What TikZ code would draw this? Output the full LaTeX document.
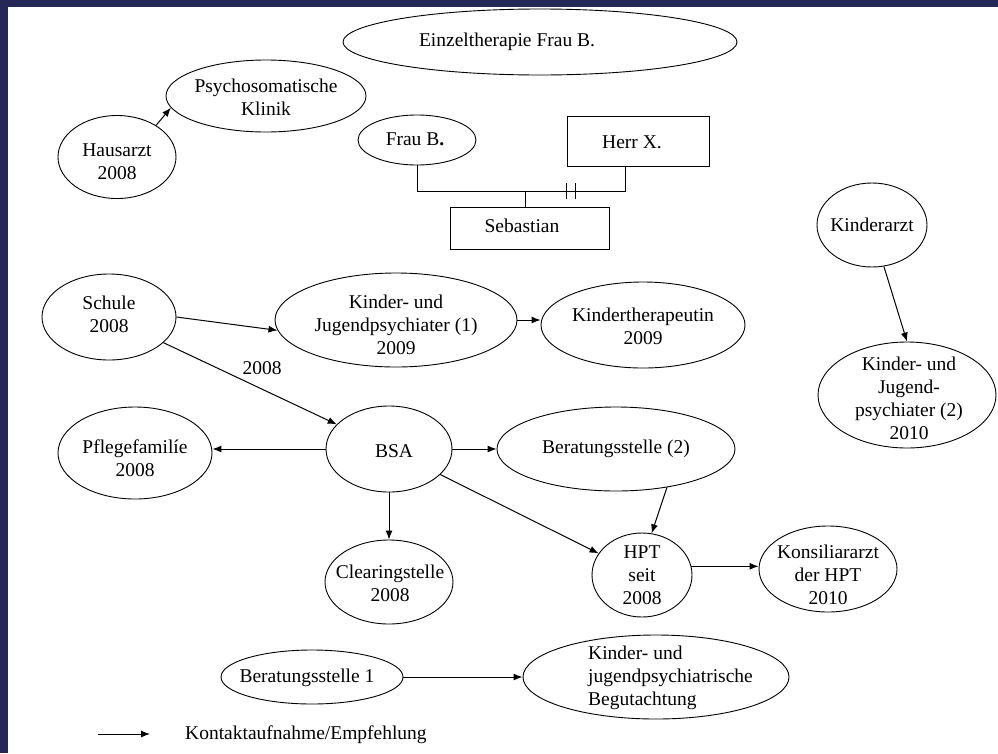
\documentclass[tikz,border=0pt]{standalone}
\usepackage{fontspec}
\setmainfont{Liberation Serif}
\usetikzlibrary{shapes.geometric,arrows.meta}
\definecolor{framecol}{RGB}{37,40,87}
\begin{document}
\begin{tikzpicture}[x=1pt,y=-1pt,
  ell/.style={draw,ellipse,inner sep=0pt,line width=0.9pt},
  box/.style={draw,rectangle,inner sep=0pt,line width=0.9pt},
  txt/.style={font=\fontsize{19.5}{23}\selectfont,align=center,inner sep=0pt},
  arr/.style={-{Latex[length=9pt,width=7pt]},line width=1pt},
  conn/.style={line width=0.9pt}]
\useasboundingbox (0,0) rectangle (998,753);
\fill[white] (0,0) rectangle (998,753);
\fill[framecol] (0,0) rectangle (998,7);
\fill[framecol] (0,0) rectangle (8,753);

% top
\node[ell,minimum width=394,minimum height=66] (einzel) at (540,42) {};
\node[txt] (einzelT) at (507,42) {Einzeltherapie Frau B.};

\node[ell,minimum width=200,minimum height=72] (psy) at (266,96) {};
\node[txt] (psyT) at (266,97) {Psychosomatische\\Klinik};

\node[ell,minimum width=118,minimum height=83] (haus) at (117,157) {};
\node[txt] (hausT) at (117,162) {Hausarzt\\2008};
\draw[arr] (haus.39) -- (psy.187);

% family
\node[ell,minimum width=118,minimum height=50] (fraub) at (417,140) {};
\node[txt] (fraubT) at (415,139) {Frau B{\bfseries.}};
\node[box,minimum width=142,minimum height=50] (herrx) at (638,141) {};
\node[txt] (herrxT) at (632,142) {Herr X.};
\node[box,minimum width=159,minimum height=42] (seb) at (529.5,228) {};
\node[txt] (sebT) at (522,226) {Sebastian};
\coordinate (j1) at (417,191);
\coordinate (j2) at (625,191);
\coordinate (j3) at (525,191);
\draw[conn] (fraub.south) |- (j2) -- (j2 |- herrx.south);
\draw[conn] (j3) -- (j3 |- seb.north);
\coordinate (t1a) at (566,183); \coordinate (t1b) at (566,199);
\coordinate (t2a) at (575,183); \coordinate (t2b) at (575,199);
\draw[conn] (t1a) -- (t1b);
\draw[conn] (t2a) -- (t2b);

% right
\node[ell,minimum width=110,minimum height=84] (karzt) at (872,225) {};
\node[txt] (karztT) at (872,225) {Kinderarzt};
\node[ell,minimum width=178,minimum height=106] (kj2) at (907,395) {};
\node[txt] (kj2T) at (909,398) {Kinder- und\\Jugend-\\psychiater (2)\\2010};
\draw[arr] (karzt.286) -- (kj2.north);

% middle
\node[ell,minimum width=134,minimum height=86] (schule) at (109,317) {};
\node[txt] (schuleT) at (109,314) {Schule\\2008};
\node[ell,minimum width=242,minimum height=94] (kj1) at (396,320) {};
\node[txt] (kj1T) at (396,325) {Kinder- und\\Jugendpsychiater (1)\\2009};
\node[ell,minimum width=204,minimum height=86] (kt) at (643,325) {};
\node[txt] (ktT) at (643,326) {Kindertherapeutin\\2009};
\draw[arr] (schule.0) -- (kj1.185);
\draw[arr] (kj1.east) -- (kj1.east -| kt.west);

\node[ell,minimum width=126,minimum height=86] (bsa) at (389,449) {};
\node[txt] (bsaT) at (394,451) {BSA};
\draw[arr] (schule) -- (bsa);
\node[txt] (lab2008) at (262,368) {2008};

\node[ell,minimum width=154,minimum height=92] (pflege) at (135,453) {};
\node[txt] (pflegeT) at (135,458) {Pflegefamilíe\\2008};
\draw[arr] (bsa.west) -- (bsa.west -| pflege.east);

\node[ell,minimum width=238,minimum height=84] (ber2) at (616,449) {};
\node[txt] (ber2T) at (616,449) {Beratungsstelle (2)};
\draw[arr] (bsa) -- (ber2);

\node[ell,minimum width=128,minimum height=84] (clear) at (389,582) {};
\node[txt] (clearT) at (390,583) {Clearingstelle\\2008};
\draw[arr] (bsa) -- (clear);

\node[ell,minimum width=100,minimum height=84] (hpt) at (642,575) {};
\node[txt] (hptT) at (642,575) {HPT\\seit\\2008};
\draw[arr] (bsa) -- (hpt);
\draw[arr] (ber2.323) -- (hpt.77);

\node[ell,minimum width=138,minimum height=86] (kons) at (828,569) {};
\node[txt] (konsT) at (828,575) {Konsiliararzt\\der HPT\\2010};
\draw[arr] (hpt.10) -- (hpt.10 -| kons.west);

% bottom
\node[ell,minimum width=182,minimum height=54] (ber1) at (312,677) {};
\node[txt] (ber1T) at (307,678) {Beratungsstelle 1};
\node[ell,minimum width=266,minimum height=84] (kjb) at (656,677) {};
\node[txt,align=left,anchor=west] (kjbT) at (588,678) {Kinder- und\\jugendpsychiatrische\\Begutachtung};
\draw[arr] (ber1) -- (kjb);

% legend
\coordinate (la) at (98,734);
\coordinate (lb) at (150,734);
\draw[arr] (la) -- (lb);
\node[txt,anchor=west] (legT) at (185,735) {Kontaktaufnahme/Empfehlung};
\end{tikzpicture}
\end{document}
